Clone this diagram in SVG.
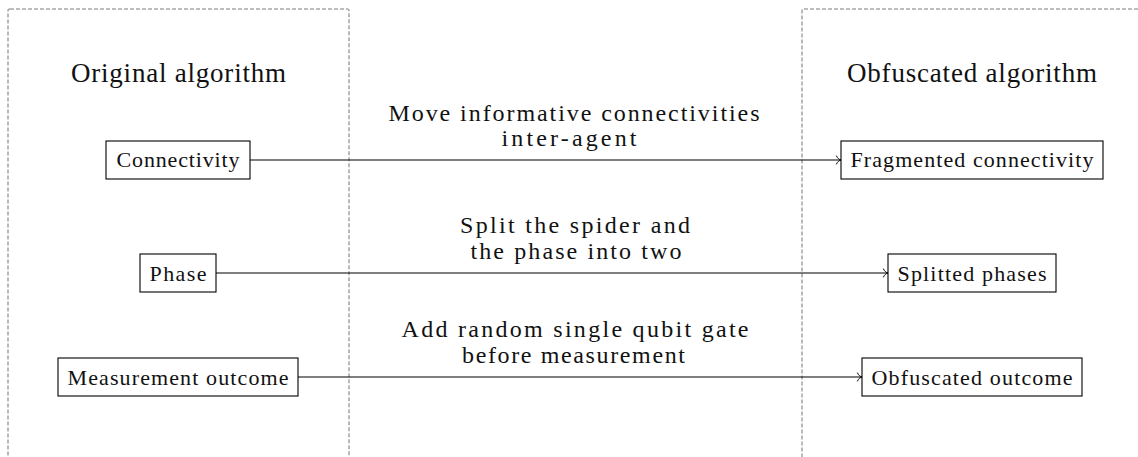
<svg xmlns="http://www.w3.org/2000/svg" width="1138" height="457" viewBox="0 0 1138 457">
<style>
  .panel { fill: none; stroke: #a8a8a8; stroke-width: 1.6; stroke-dasharray: 4 2; }
  .box { fill: #fff; stroke: #000; stroke-width: 1.1; }
  .lbl { font-size: 22px; fill: #111; text-anchor: middle; }
  .big { font-size: 27px; fill: #111; text-anchor: middle; }
  .mid { font-size: 24px; fill: #111; text-anchor: middle; }
  .edge { fill: none; stroke: #000; stroke-width: 1.1; }
</style>
<defs>
  <marker id="to" markerUnits="userSpaceOnUse" markerWidth="12" markerHeight="12" viewBox="-6 -6 12 12" refX="0" refY="0" orient="auto">
    <path d="M -4.5,-4 C -3.5,-1.5 -1.5,-0.4 0,0 C -1.5,0.4 -3.5,1.5 -4.5,4" fill="none" stroke="#000" stroke-width="1" stroke-linecap="round"/>
  </marker>
</defs>
<rect width="1138" height="457" fill="#fff"/>
<g font-family="'Liberation Serif', 'DejaVu Serif', serif">
<g id="panel-original">
  <rect class="panel" x="8" y="9" width="341" height="470" rx="2"/>
  <text class="big" x="178.5" y="82" textLength="215" lengthAdjust="spacing">Original algorithm</text>
</g>
<g id="panel-obfuscated">
  <rect class="panel" x="802" y="9" width="360" height="470" rx="2"/>
  <text class="big" x="972" y="82" textLength="250" lengthAdjust="spacing">Obfuscated algorithm</text>
</g>
<g id="connectors">
  <g id="edge-connectivity">
    <line class="edge" x1="250" y1="160" x2="841" y2="160" marker-end="url(#to)"/>
    <text class="mid" x="574" y="121" textLength="371" lengthAdjust="spacing">Move informative connectivities</text>
    <text class="mid" x="569" y="146" textLength="135" lengthAdjust="spacing">inter-agent</text>
  </g>
  <g id="edge-phase">
    <line class="edge" x1="216" y1="273" x2="888" y2="273" marker-end="url(#to)"/>
    <text class="mid" x="575" y="233" textLength="230" lengthAdjust="spacing">Split the spider and</text>
    <text class="mid" x="576" y="259" textLength="211" lengthAdjust="spacing">the phase into two</text>
  </g>
  <g id="edge-outcome">
    <line class="edge" x1="298" y1="377" x2="862" y2="377" marker-end="url(#to)"/>
    <text class="mid" x="575" y="337" textLength="347" lengthAdjust="spacing">Add random single qubit gate</text>
    <text class="mid" x="573.5" y="363" textLength="223" lengthAdjust="spacing">before measurement</text>
  </g>
</g>
<g id="node-connectivity">
  <rect class="box" x="106" y="141" width="144" height="38"/>
  <text class="lbl" x="178" y="167" textLength="123" lengthAdjust="spacing">Connectivity</text>
</g>
<g id="node-phase">
  <rect class="box" x="140" y="254" width="76" height="38"/>
  <text class="lbl" x="178" y="281" textLength="57" lengthAdjust="spacing">Phase</text>
</g>
<g id="node-measurement">
  <rect class="box" x="58" y="358" width="240" height="38"/>
  <text class="lbl" x="178" y="385" textLength="221" lengthAdjust="spacing">Measurement outcome</text>
</g>
<g id="node-fragmented">
  <rect class="box" x="841" y="141" width="262" height="38"/>
  <text class="lbl" x="972" y="167" textLength="243" lengthAdjust="spacing">Fragmented connectivity</text>
</g>
<g id="node-splitted">
  <rect class="box" x="888" y="254" width="168" height="38"/>
  <text class="lbl" x="972" y="281" textLength="149" lengthAdjust="spacing">Splitted phases</text>
</g>
<g id="node-obfuscated">
  <rect class="box" x="862" y="358" width="220" height="38"/>
  <text class="lbl" x="972" y="385" textLength="201" lengthAdjust="spacing">Obfuscated outcome</text>
</g>
</g>
</svg>
